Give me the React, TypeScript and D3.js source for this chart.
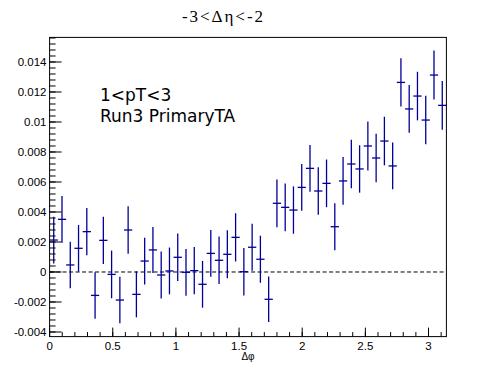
import React from "react";
import * as d3 from "d3";

const W = 496;
const H = 374;

// Δφ bin contents (48 bins over 0..π)
const values = [
  0.00213, 0.00351, 0.00047, 0.00158, 0.00269, -0.00156, 0.00211, -0.00016,
  -0.00187, 0.0028, -0.00149, 0.00073, 0.00147, -0.0002, 0.00007, 0.00098,
  -0.00002, 0.00009, -0.00082, 0.00124, 0.00078, 0.00118, 0.00231, 0.00002,
  0.00165, 0.00085, -0.00182, 0.00458, 0.00431, 0.00413, 0.00564, 0.00691,
  0.0054, 0.00591, 0.00302, 0.00607, 0.0072, 0.00687, 0.0084, 0.0076,
  0.00873, 0.00707, 0.01264, 0.01087, 0.01173, 0.01013, 0.01313, 0.01111,
];
const errors = [
  0.00156, 0.00156, 0.00155, 0.00156, 0.00158, 0.00155, 0.00158, 0.00159,
  0.00155, 0.00158, 0.00153, 0.00156, 0.00153, 0.00156, 0.00156, 0.00158,
  0.00156, 0.00158, 0.00156, 0.00156, 0.00158, 0.0016, 0.00161, 0.00158,
  0.00156, 0.00157, 0.00152, 0.00159, 0.00159, 0.00158, 0.00156, 0.00156,
  0.00158, 0.00159, 0.00157, 0.00159, 0.00162, 0.00158, 0.00163, 0.00162,
  0.00162, 0.00156, 0.00161, 0.00159, 0.00162, 0.00162, 0.00163, 0.00162,
];
const xTickValues = [0, 0.5, 1, 1.5, 2, 2.5, 3];
const yTickValues = [-0.004, -0.002, 0, 0.002, 0.004, 0.006, 0.008, 0.01, 0.012, 0.014];
const yTickLabels = ["-0.004", "-0.002", "0", "0.002", "0.004", "0.006", "0.008", "0.01", "0.012", "0.014"];
const titleText = "-3<\u0394\u03b7<-2";
const xTitle = "\u0394\u03c6";
const textLines = ["1<pT<3", "Run3 PrimaryTA"];

const xMin = 0;
const xMax = Math.PI;
const yMin = -0.004307;
const yMax = 0.01564;

const L = 49.6, R = 446.4, T = 37.4, B = 336.6;
const color = "#000099";

export default function App() {
  const x = d3.scaleLinear().domain([xMin, xMax]).range([L, R]);
  const y = d3.scaleLinear().domain([yMin, yMax]).range([B, T]);
  const nb = values.length;
  const bw = (xMax - xMin) / nb;

  const xMinor = d3.range(0, 32).map((i) => i * 0.1).filter((v) => v <= xMax);
  const yMinor = d3
    .range(Math.ceil(yMin / 0.0004), Math.floor(yMax / 0.0004) + 1)
    .map((k) => k * 0.0004);

  return (
    <svg
      width={W}
      height={H}
      style={{ position: "absolute", left: 0, top: 0, display: "block", background: "#fff" }}
    >
      <rect x={0} y={0} width={W} height={H} fill="#fff" />
      {/* title */}
      <text
        x={182}
        y={22}
        fontFamily="'Liberation Serif', 'Times New Roman', serif"
        fontSize={17}
        textLength={81}
        lengthAdjust="spacing"
        fill="#000"
      >
        {titleText}
      </text>

      {/* zero dashed line */}
      <line x1={L} x2={R} y1={y(0)} y2={y(0)} stroke="#000" strokeWidth={1} strokeDasharray="4,2.5" />

      {/* data points */}
      {values.map((v, i) => {
        const cx = x(xMin + (i + 0.5) * bw);
        const x0 = x(xMin + i * bw);
        const x1 = x(xMin + (i + 1) * bw);
        const e = errors[i];
        return (
          <g key={i} stroke={color} strokeWidth={1.3}>
            <line x1={cx} x2={cx} y1={y(v + e)} y2={y(v - e)} />
            <line x1={x0} x2={x1} y1={y(v)} y2={y(v)} />
          </g>
        );
      })}

      {/* frame */}
      <rect x={L} y={T} width={R - L} height={B - T} fill="none" stroke="#000" strokeWidth={1} />

      {/* x ticks */}
      {xMinor.map((v, i) => (
        <line key={"xm" + i} x1={x(v)} x2={x(v)} y1={B} y2={B - 4.5} stroke="#000" strokeWidth={1} />
      ))}
      {xTickValues.map((v, i) => (
        <g key={"xt" + i}>
          <line x1={x(v)} x2={x(v)} y1={B} y2={B - 9} stroke="#000" strokeWidth={1} />
          <text
            x={x(v)}
            y={349.5}
            textAnchor="middle"
            fontFamily="'Liberation Sans', Arial, sans-serif"
            fontSize={11.5}
            fill="#000"
          >
            {String(v)}
          </text>
        </g>
      ))}

      {/* y ticks */}
      {yMinor.map((v, i) => (
        <line key={"ym" + i} x1={L} x2={L + 6} y1={y(v)} y2={y(v)} stroke="#000" strokeWidth={1} />
      ))}
      {yTickValues.map((v, i) => (
        <g key={"yt" + i}>
          <line x1={L} x2={L + 12} y1={y(v)} y2={y(v)} stroke="#000" strokeWidth={1} />
          <text
            x={46.5}
            y={y(v) + 4}
            textAnchor="end"
            fontFamily="'Liberation Sans', Arial, sans-serif"
            fontSize={11.5}
            fill="#000"
          >
            {yTickLabels[i]}
          </text>
        </g>
      ))}

      {/* x title */}
      <text
        x={248}
        y={360}
        textAnchor="middle"
        fontFamily="'Liberation Sans', Arial, sans-serif"
        fontSize={10}
        fill="#000"
      >
        {xTitle}
      </text>

      {/* annotation */}
      {textLines.map((t, i) => (
        <text
          key={"tl" + i}
          x={100}
          y={100.7 + i * 21}
          fontFamily="'DejaVu Sans', sans-serif"
          fontSize={17}
          fill="#000"
        >
          {t}
        </text>
      ))}
    </svg>
  );
}
